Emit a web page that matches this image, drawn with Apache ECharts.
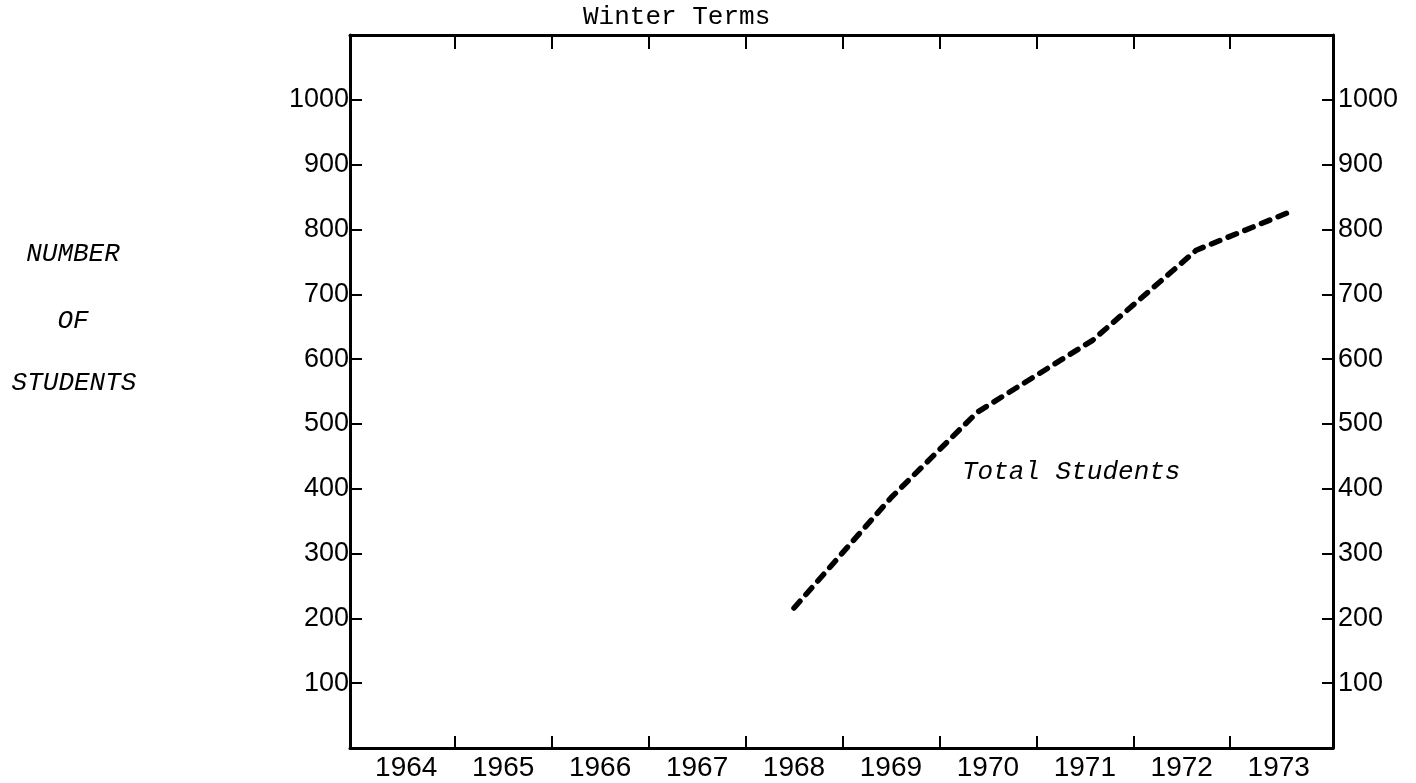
<!DOCTYPE html>
<html>
<head>
<meta charset="utf-8">
<title>Winter Terms</title>
<script src="https://cdn.jsdelivr.net/npm/echarts@6/dist/echarts.min.js"></script>
<style>
  html, body { margin: 0; padding: 0; background: #fff; }
  #main { width: 1416px; height: 783px; }
</style>
</head>
<body>
<div id="main"></div>
<script>
// tick labels
const years = [1964, 1965, 1966, 1967, 1968, 1969, 1970, 1971, 1972, 1973];
const halfYearTicks = [1964.5, 1965.5, 1966.5, 1967.5, 1968.5, 1969.5, 1970.5, 1971.5, 1972.5];
const studentTicks = [100, 200, 300, 400, 500, 600, 700, 800, 900, 1000];

// total students
const termYear = [1968, 1969, 1969.89, 1971.08, 1972.15, 1973.08];
const totalStudents = [216, 386, 518, 629, 768, 825];

const myChart = echarts.init(document.getElementById('main'));

const sans = 'Liberation Sans';
const lineBlack = { color: '#000', width: 3 };
const tickBlack = { color: '#000', width: 2 };
const plain = (v) => String(v);

const option = {
  animation: false,
  backgroundColor: '#fff',
  grid: { left: 350, right: 83, top: 35, bottom: 35 },
  xAxis: [
    {
      type: 'value',
      position: 'bottom',
      min: 1963.42,
      max: 1973.56,
      axisLine: { show: true, onZero: false, lineStyle: lineBlack },
      axisTick: { show: true, inside: true, length: 12, customValues: halfYearTicks, lineStyle: tickBlack },
      axisLabel: { customValues: years, formatter: plain, color: '#000', fontFamily: sans, fontSize: 28, margin: 6 },
      splitLine: { show: false }
    },
    {
      type: 'value',
      position: 'top',
      min: 1963.42,
      max: 1973.56,
      axisLine: { show: true, onZero: false, lineStyle: lineBlack },
      axisTick: { show: true, inside: true, length: 14, customValues: halfYearTicks, lineStyle: tickBlack },
      axisLabel: { show: false },
      splitLine: { show: false }
    }
  ],
  yAxis: [
    {
      type: 'value',
      position: 'left',
      min: 0,
      max: 1100,
      axisLine: { show: true, onZero: false, lineStyle: lineBlack },
      axisTick: { show: true, inside: true, length: 12, customValues: studentTicks, lineStyle: tickBlack },
      axisLabel: { customValues: studentTicks, formatter: plain, color: '#000', fontFamily: sans, fontSize: 27, margin: 1, padding: [0, 0, 6, 0] },
      splitLine: { show: false }
    },
    {
      type: 'value',
      position: 'right',
      min: 0,
      max: 1100,
      axisLine: { show: true, onZero: false, lineStyle: lineBlack },
      axisTick: { show: true, inside: true, length: 11, customValues: studentTicks, lineStyle: tickBlack },
      axisLabel: { customValues: studentTicks, formatter: plain, color: '#000', fontFamily: sans, fontSize: 27, margin: 5 },
      splitLine: { show: false }
    }
  ],
  graphic: [
    { type: 'text', left: 583, top: 4, style: { text: 'Winter Terms', font: '26px "Liberation Mono"', fill: '#000' } },
    { type: 'text', x: 73, y: 254, style: { text: 'NUMBER', font: 'italic 26px "Liberation Mono"', fill: '#000', align: 'center', verticalAlign: 'middle' } },
    { type: 'text', x: 73, y: 321, style: { text: 'OF', font: 'italic 26px "Liberation Mono"', fill: '#000', align: 'center', verticalAlign: 'middle' } },
    { type: 'text', x: 74, y: 383, style: { text: 'STUDENTS', font: 'italic 26px "Liberation Mono"', fill: '#000', align: 'center', verticalAlign: 'middle' } },
    { type: 'text', x: 962, y: 472, style: { text: 'Total Students', font: 'italic 26px "Liberation Mono"', fill: '#000', verticalAlign: 'middle' } }
  ],
  series: [
    {
      name: 'Total Students',
      type: 'line',
      xAxisIndex: 0,
      yAxisIndex: 0,
      data: termYear.map((y, i) => [y, totalStudents[i]]),
      symbol: 'none',
      lineStyle: { color: '#000', width: 5.5, type: [9, 9], cap: 'round', join: 'round' }
    }
  ]
};

myChart.setOption(option);
</script>
</body>
</html>
